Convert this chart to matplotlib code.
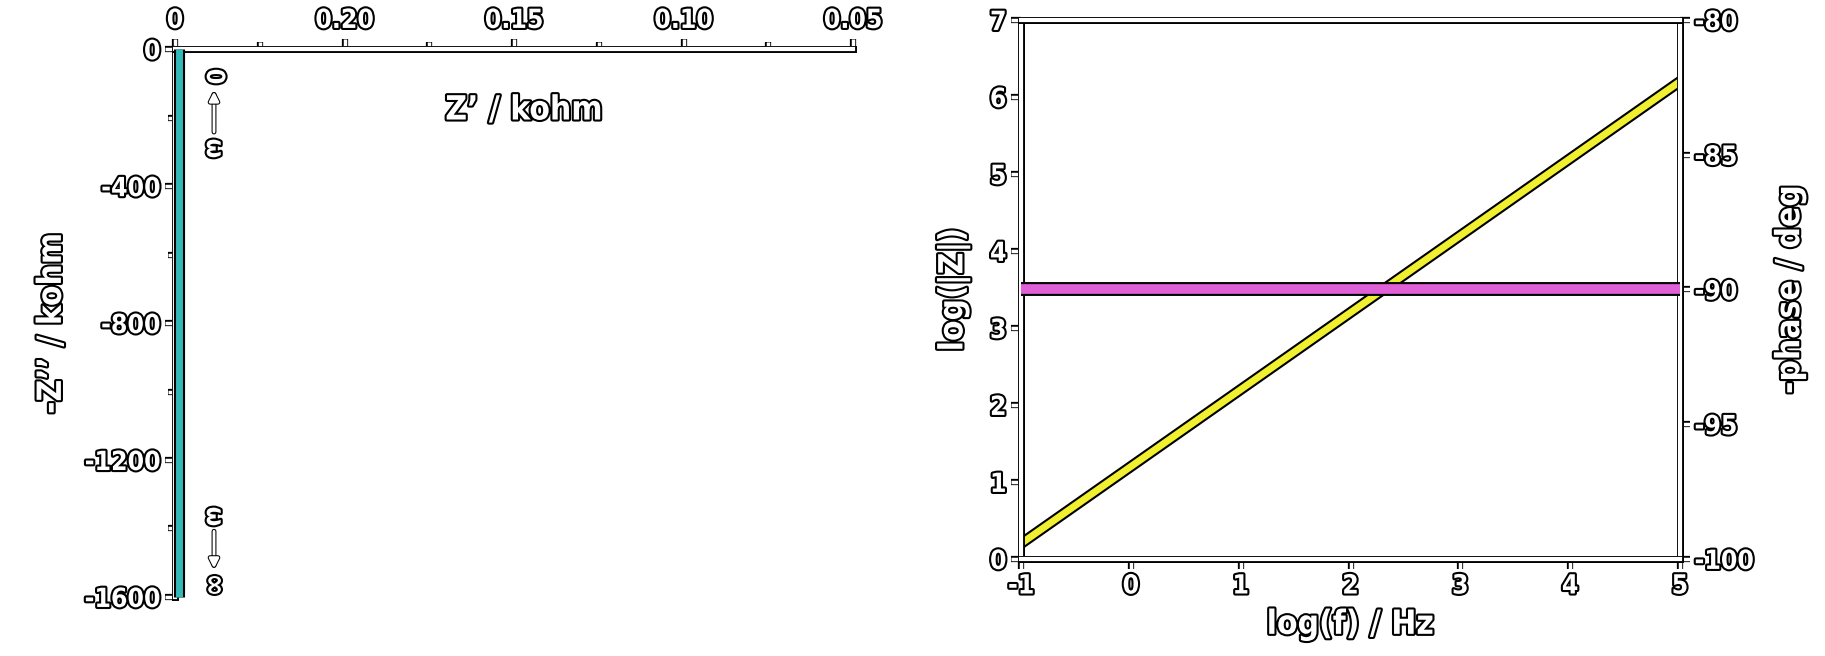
import matplotlib
matplotlib.use("Agg")
import matplotlib.pyplot as plt
import matplotlib.patheffects as pe
from matplotlib import font_manager

plt.rcParams['font.family'] = ['DejaVu Sans']
plt.rcParams['font.stretch'] = 'condensed'
plt.rcParams['font.weight'] = 'bold'
plt.rcParams['axes.unicode_minus'] = False
print(sorted({(f.name, f.stretch) for f in font_manager.fontManager.ttflist if 'Narrow' in f.name or 'Condensed' in f.fname or f.stretch != 'normal'}))

# Nyquist data (kohm)
z_real = [0.0012, 0.0012, 0.0012, 0.0012, 0.0012]
z_imag = [0, -400, -800, -1200, -1600]
nyq_xticks = [0, 0.05, 0.10, 0.15, 0.20]
nyq_xlabels = ['0', '0.20', '0.15', '0.10', '0.05']
nyq_yticks = [0, -400, -800, -1200, -1600]

# Bode data
log_f = [-1, 0, 1, 2, 3, 4, 5]
log_z = [0.2, 1.2, 2.2, 3.2, 4.2, 5.2, 6.2]
phase = [-90, -90, -90, -90, -90, -90, -90]

outline = [pe.withStroke(linewidth=3, foreground='black')]
spine_fx = [pe.Stroke(linewidth=5, foreground='black'), pe.Normal()]
line_fx = [pe.Stroke(linewidth=8, foreground='black'), pe.Normal()]


def txt(size=18):
    return dict(color='white', fontsize=size, fontweight='bold', path_effects=outline)


def style(ax, spines):
    for name, sp in ax.spines.items():
        if name in spines:
            sp.set_color('white')
            sp.set_linewidth(3)
            sp.set_path_effects(spine_fx)
        else:
            sp.set_visible(False)
    ax.tick_params(which='both', color='white', width=2.5, labelcolor='white', labelsize=19)
    ax.tick_params(which='major', length=7)
    ax.tick_params(which='minor', length=5)
    for axis in (ax.xaxis, ax.yaxis):
        for t in axis.get_major_ticks() + axis.get_minor_ticks():
            for ln in (t.tick1line, t.tick2line):
                ln.set_path_effects([pe.Stroke(linewidth=4.5, foreground='black'), pe.Normal()])
            for lb in (t.label1, t.label2):
                lb.set_path_effects(outline)
                lb.set_fontweight('bold')


fig = plt.figure(figsize=(18.25, 6.56), dpi=100)

# ---- left: Nyquist ----
ax1 = fig.add_axes([0.0959, 0.090, 0.3715, 0.835])
ax1.plot(z_real, z_imag, color='#34b8b8', lw=5, solid_capstyle='butt',
         path_effects=line_fx, clip_on=False, zorder=3)
ax1.set_xlim(0, 0.2)
ax1.set_ylim(-1600, 0)
ax1.xaxis.tick_top()
ax1.set_xticks(nyq_xticks)
ax1.set_xticklabels(nyq_xlabels)
ax1.set_xticks([0.025, 0.075, 0.125, 0.175], minor=True)
ax1.set_yticks(nyq_yticks)
ax1.set_yticklabels([str(v) for v in nyq_yticks])
ax1.set_yticks([-200, -600, -1000, -1400], minor=True)
style(ax1, ['top', 'left'])
ax1.tick_params(axis='x', which='both', top=True, bottom=False, labeltop=True, labelbottom=False, pad=4)
ax1.set_ylabel('-Z\u2019\u2019 / kohm', labelpad=12, **txt(24))
ax1.text(0.515, 0.889, 'Z\u2019 / kohm', transform=ax1.transAxes, ha='center', va='center', **txt(24))

arrow_kw = dict(arrowstyle='-|>', color='white', lw=2, mutation_scale=14,
                path_effects=[pe.Stroke(linewidth=3.5, foreground='black'), pe.Normal()])
ax1.text(0.0115, -80, '0', rotation=270, ha='center', va='center', **txt(18))
ax1.text(0.0115, -290, '\u03c9', rotation=270, ha='center', va='center', **txt(18))
ax1.annotate('', xy=(0.0115, -115), xytext=(0.0115, -250), arrowprops=arrow_kw)
ax1.text(0.0115, -1365, '\u03c9', rotation=270, ha='center', va='center', **txt(18))
ax1.text(0.0115, -1565, '\u221e', rotation=270, ha='center', va='center', **txt(22))
ax1.annotate('', xy=(0.0115, -1525), xytext=(0.0115, -1400), arrowprops=arrow_kw)

# ---- right: Bode ----
ax2 = fig.add_axes([0.5595, 0.148, 0.361, 0.8216])
ax2.plot(log_f, log_z, color='#f0f030', lw=5, path_effects=line_fx, zorder=3)
ax2.set_xlim(-1, 5)
ax2.set_ylim(0, 7)
ax2.set_xticks(log_f)
ax2.set_xticklabels([str(v) for v in log_f])
ax2.set_yticks(range(0, 8))
ax2.set_ylabel('log(|Z|)', labelpad=14, **txt(24))
ax2.set_xlabel('log(f) / Hz', labelpad=6, **txt(24))

ax3 = ax2.twinx()
ax3.plot(log_f, phase, color='#e060d8', lw=7,
         path_effects=[pe.Stroke(linewidth=10, foreground='black'), pe.Normal()], zorder=3)
ax3.set_ylim(-100, -80)
ax3.set_yticks([-100, -95, -90, -85, -80])
ax3.set_yticklabels([str(v) for v in [-100, -95, -90, -85, -80]])
ax3.set_ylabel('-phase / deg', labelpad=14, **txt(24))

style(ax2, ['top', 'bottom', 'left', 'right'])
style(ax3, ['top', 'bottom', 'left', 'right'])

fig.savefig('out.png', dpi=100, facecolor='white')
